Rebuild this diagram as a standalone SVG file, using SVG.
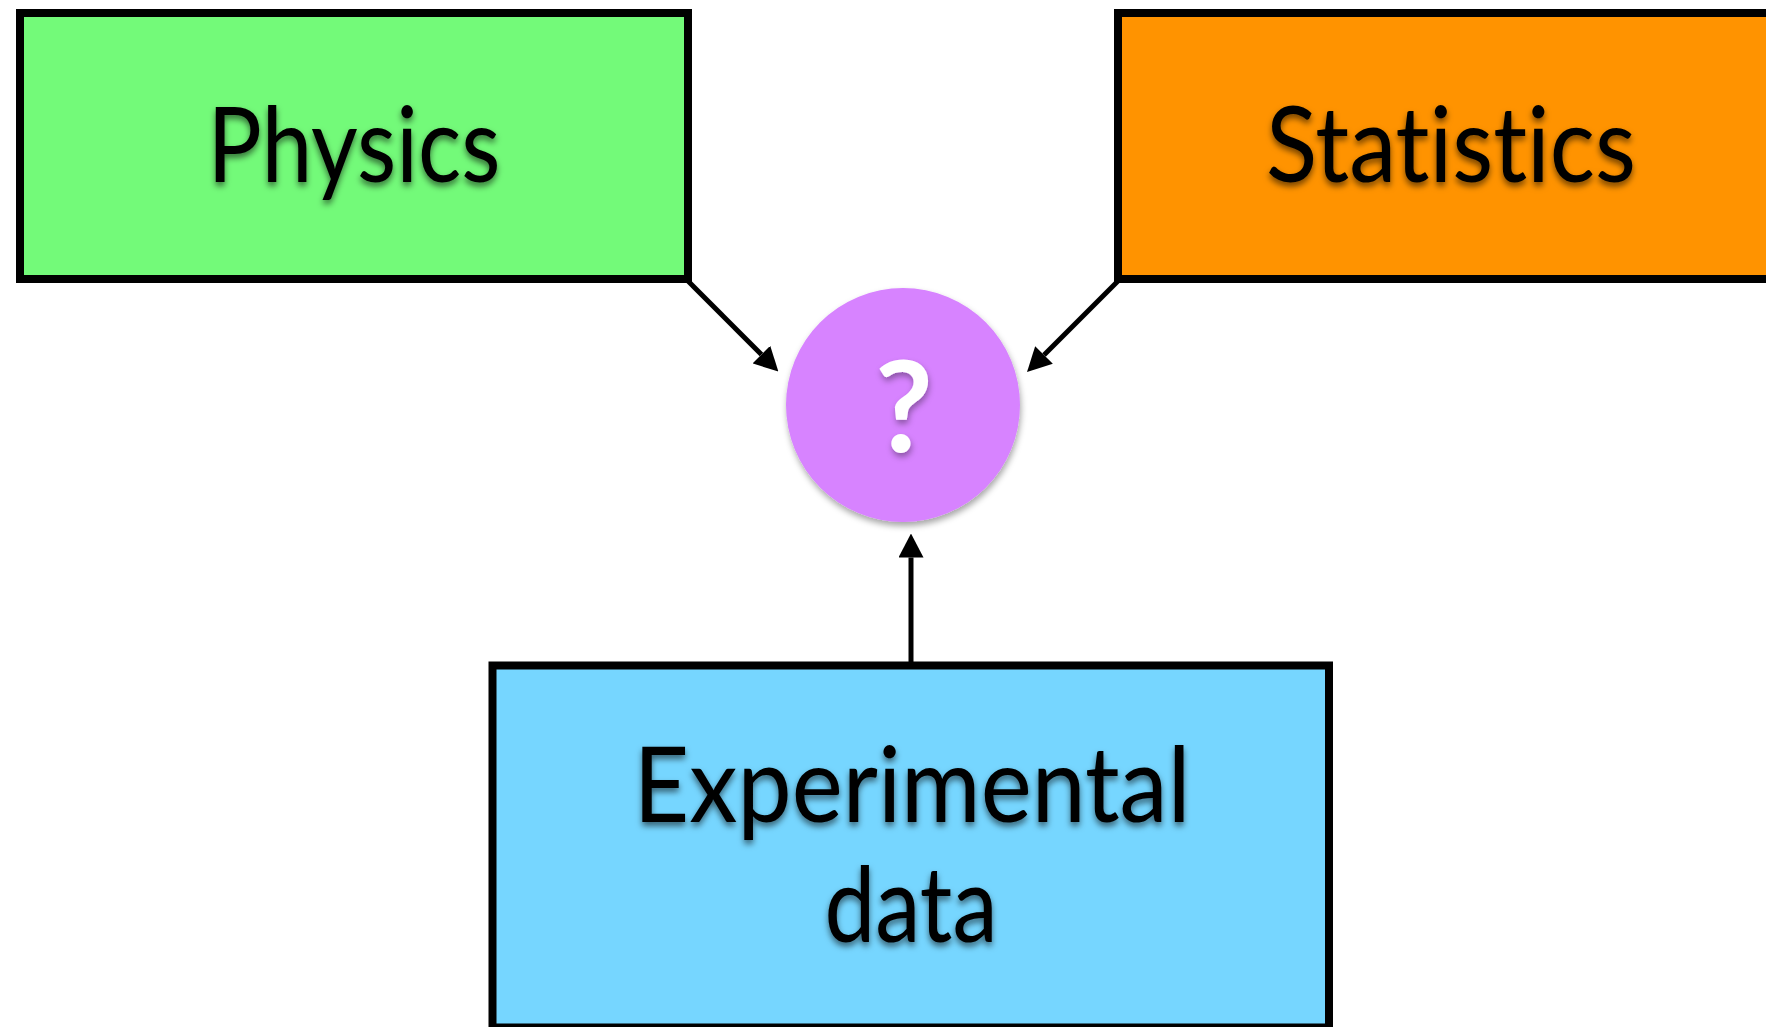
<svg xmlns="http://www.w3.org/2000/svg" width="1766" height="1027" viewBox="0 0 1766 1027">
  <defs>
    <filter id="textShadow" x="-10%" y="-20%" width="120%" height="150%">
      <feDropShadow dx="0" dy="4" stdDeviation="3" flood-color="#000" flood-opacity="0.55"/>
    </filter>
    <filter id="circleShadow" x="-20%" y="-20%" width="140%" height="140%">
      <feDropShadow dx="1" dy="4" stdDeviation="3" flood-color="#000" flood-opacity="0.35"/>
    </filter>
    <marker id="arrowHead" viewBox="0 0 24 25" refX="0" refY="12.5" markerWidth="24" markerHeight="25" markerUnits="userSpaceOnUse" orient="auto">
      <path d="M0,0 L24,12.5 L0,25 Z" fill="#000"/>
    </marker>
  </defs>
  <style>
    .box { stroke: #000; stroke-width: 8; }
    .label { font-family: Lato, "Liberation Sans", sans-serif; font-size: 104px; fill: #000; text-anchor: middle; font-variant-ligatures: none; font-feature-settings: "liga" 0; filter: url(#textShadow); }
    .conn { stroke: #000; stroke-width: 5; fill: none; marker-end: url(#arrowHead); }
  </style>

  <rect width="1766" height="1027" fill="#fff"/>

  <!-- connectors -->
  <g id="connectors">
    <line class="conn" x1="688" y1="281" x2="761.4" y2="354.6"/>
    <line class="conn" x1="1118" y1="281" x2="1044" y2="355"/>
    <line class="conn" x1="911" y1="662" x2="911" y2="557.5"/>
  </g>

  <!-- Physics -->
  <g id="physics">
    <rect class="box" x="20" y="13" width="668" height="266" fill="#73FA79"/>
    <text class="label" x="354" y="182" textLength="293" lengthAdjust="spacingAndGlyphs">Physics</text>
  </g>

  <!-- Statistics -->
  <g id="statistics">
    <rect class="box" x="1118" y="13" width="660" height="266" fill="#FF9300"/>
    <text class="label" x="1451" y="182" textLength="370" lengthAdjust="spacingAndGlyphs">Statistics</text>
  </g>

  <!-- Unknown centre node -->
  <g id="unknown">
    <circle cx="903" cy="405" r="117" fill="#D783FF" filter="url(#circleShadow)"/>
    <text x="904" y="452" font-family="Lato, 'Liberation Sans', sans-serif" font-size="126" font-weight="bold" fill="#fff" text-anchor="middle" filter="url(#circleShadow)">?</text>
  </g>

  <!-- Experimental data -->
  <g id="experimental-data">
    <rect class="box" x="492.5" y="665.5" width="836.5" height="362" fill="#76D6FF"/>
    <text class="label" x="912" y="822" textLength="557" lengthAdjust="spacingAndGlyphs">Experimental</text>
    <text class="label" x="911" y="942" textLength="173" lengthAdjust="spacingAndGlyphs">data</text>
  </g>
</svg>
